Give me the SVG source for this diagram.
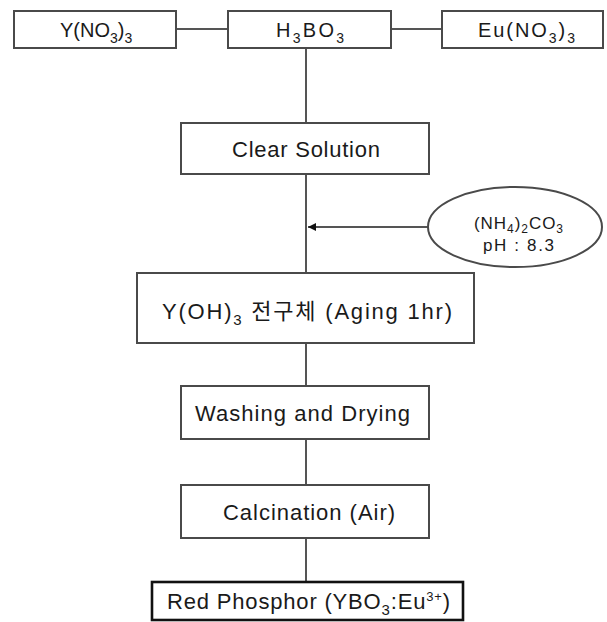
<svg xmlns="http://www.w3.org/2000/svg" width="607" height="622" viewBox="0 0 607 622">
<defs>
<style>
.box{fill:#fff;stroke:#4a4a4a;stroke-width:2}
.bold{fill:#fff;stroke:#111;stroke-width:2.6}
.ln{stroke:#555;stroke-width:2;fill:none}
text{font-family:"Liberation Sans","Noto Sans CJK KR",Arial,sans-serif;fill:#1a1a1a;font-size:22px}
.top{font-size:20px}
.sm{font-size:17px}
</style>
<marker id="ah" viewBox="0 0 10 10" refX="10" refY="5" markerWidth="9" markerHeight="8" markerUnits="userSpaceOnUse" orient="auto">
<path d="M0,0 L10,5 L0,10 z" fill="#111"/>
</marker>
</defs>
<rect width="607" height="622" fill="#fff"/>
<g id="connectors">
<line class="ln" x1="176" y1="29" x2="228" y2="29"/>
<line class="ln" x1="391" y1="29" x2="442" y2="29"/>
<line class="ln" x1="306" y1="48" x2="306" y2="582"/>
<line class="ln" x1="428" y1="227" x2="308" y2="227" marker-end="url(#ah)"/>
</g>
<g id="n-yno3">
<rect class="box" x="14" y="11" width="162" height="37"/>
<text class="top" x="60" y="37">Y(NO<tspan dy="6" font-size="14">3</tspan><tspan dy="-6">)</tspan><tspan dy="6" font-size="14">3</tspan></text>
</g>
<g id="n-h3bo3">
<rect class="box" x="228" y="11" width="163" height="37"/>
<text class="top" x="276" y="37" textLength="68" lengthAdjust="spacing">H<tspan dy="6" font-size="14">3</tspan><tspan dy="-6">BO</tspan><tspan dy="6" font-size="14">3</tspan></text>
</g>
<g id="n-euno3">
<rect class="box" x="442" y="11" width="161" height="37"/>
<text class="top" x="478" y="37" textLength="97" lengthAdjust="spacing">Eu(NO<tspan dy="6" font-size="14">3</tspan><tspan dy="-6">)</tspan><tspan dy="6" font-size="14">3</tspan></text>
</g>
<g id="n-clear">
<rect class="box" x="181" y="123" width="248" height="51"/>
<text x="232" y="157" textLength="148" lengthAdjust="spacing">Clear Solution</text>
</g>
<g id="n-nh4">
<ellipse class="box" cx="515" cy="227" rx="87" ry="40"/>
<text class="sm" x="474" y="229" textLength="89" lengthAdjust="spacing">(NH<tspan dy="4" font-size="12">4</tspan><tspan dy="-4">)</tspan><tspan dy="4" font-size="12">2</tspan><tspan dy="-4">CO</tspan><tspan dy="4" font-size="12">3</tspan></text>
<text class="sm" x="483" y="251" textLength="71" lengthAdjust="spacing">pH : 8.3</text>
</g>
<g id="n-yoh3">
<rect class="box" x="137" y="273" width="337" height="70"/>
<text x="162" y="319" textLength="290" lengthAdjust="spacing">Y(OH)<tspan dy="6" font-size="15">3</tspan><tspan dy="-6"> 전구체 (Aging 1hr)</tspan></text>
</g>
<g id="n-wash">
<rect class="box" x="181" y="386" width="248" height="53"/>
<text x="195" y="421" textLength="215" lengthAdjust="spacing">Washing and Drying</text>
</g>
<g id="n-calc">
<rect class="box" x="181" y="485" width="248" height="53"/>
<text x="223" y="520" textLength="172" lengthAdjust="spacing">Calcination (Air)</text>
</g>
<g id="n-red">
<rect class="bold" x="152" y="582" width="311" height="38"/>
<text x="167" y="609" textLength="283" lengthAdjust="spacing">Red Phosphor (YBO<tspan dy="6" font-size="15">3</tspan><tspan dy="-6">:Eu</tspan><tspan dy="-8" font-size="13">3+</tspan><tspan dy="8">)</tspan></text>
</g>
</svg>
